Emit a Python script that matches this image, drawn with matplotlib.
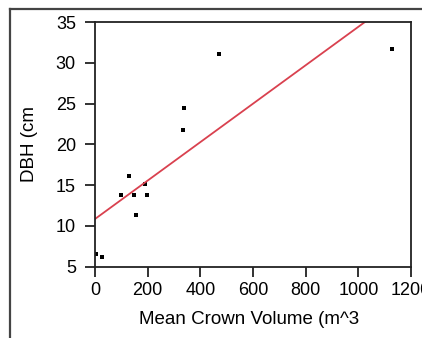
# Scatter of DBH against mean crown volume, with a fitted line
import matplotlib
matplotlib.use('Agg')
import matplotlib.pyplot as plt
from matplotlib.lines import Line2D
import numpy as np

plt.rcParams['font.family'] = ['Liberation Sans', 'DejaVu Sans']

# data
crown_volume = [4, 28, 99, 129, 147, 155, 189, 196, 333, 339, 472, 1128]
dbh = [6.5, 6.2, 13.8, 16.1, 13.8, 11.4, 15.1, 13.8, 21.8, 24.5, 31.1, 31.7]

# fitted line (intercept, slope)
fit_intercept = 10.85
fit_slope = 0.02356

x_ticks = [0, 200, 400, 600, 800, 1000, 1200]
y_ticks = [5, 10, 15, 20, 25, 30, 35]

fig = plt.figure(figsize=(4.22, 3.38), dpi=100)
ax = fig.add_axes([0.2251, 0.2109, 0.7488, 0.7240])

ax.plot(crown_volume, dbh, 's', color='black', ms=2.2, mew=0)

line_x = np.array([0, 1200])
ax.plot(line_x, fit_intercept + fit_slope * line_x, color='#d9414f', lw=1.3)

ax.set_xlim(0, 1200)
ax.set_ylim(5, 35)
ax.set_xticks(x_ticks)
ax.set_yticks(y_ticks)

for s in ax.spines.values():
    s.set_linewidth(1.3)
    s.set_color('#222222')

ax.tick_params(direction='out', length=7.2, width=1.3, color='#222222',
               labelsize=13)
ax.tick_params(axis='y', pad=6.5)
ax.tick_params(axis='x', pad=3.5)

ax.set_xlabel('Mean Crown Volume (m^3', fontsize=13.5)
ax.set_ylabel('DBH (cm', fontsize=13.5)
ax.xaxis.set_label_coords(0.487, -0.182)
ax.yaxis.set_label_coords(-0.18, 0.5)

# outer frame lines at top and left
fig.add_artist(Line2D([10 / 422, 1], [1 - 9 / 338, 1 - 9 / 338],
                      transform=fig.transFigure, color='#444444', lw=1.6))
fig.add_artist(Line2D([10 / 422, 10 / 422], [0, 1 - 9 / 338],
                      transform=fig.transFigure, color='#444444', lw=1.6))

fig.savefig('out.png', dpi=100)
